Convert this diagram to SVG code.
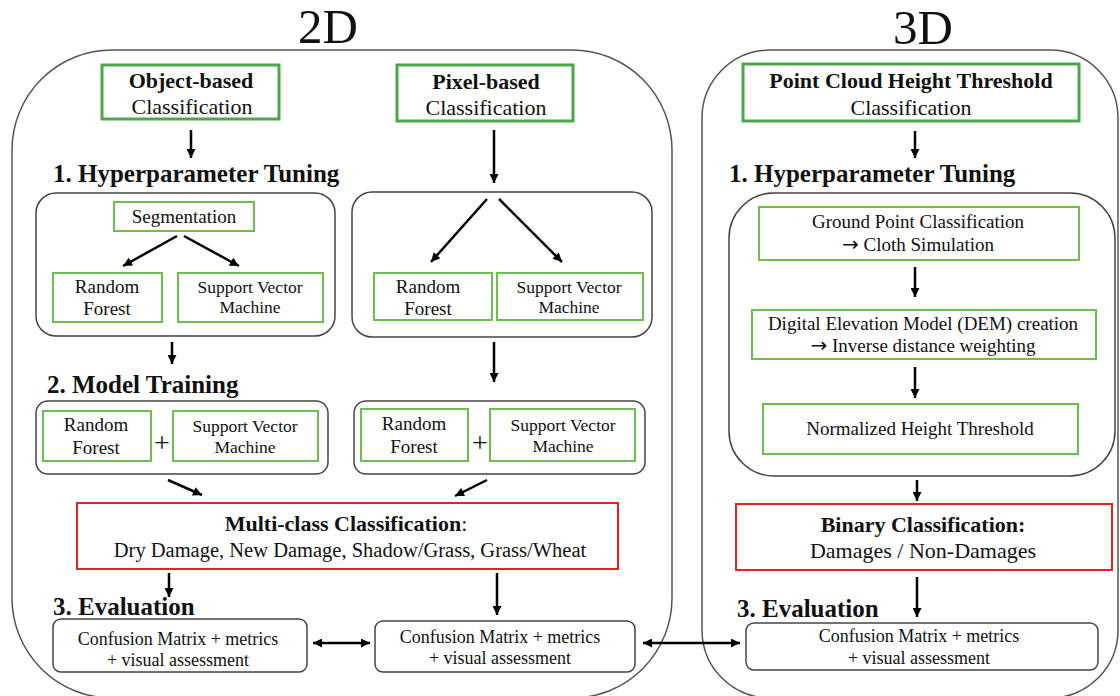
<svg xmlns="http://www.w3.org/2000/svg" width="1120" height="696" viewBox="0 0 1120 696">
<style>
text{font-family:"Liberation Serif","Times New Roman",serif;fill:#111;text-anchor:middle}
.title{font-size:49px}
.h{font-size:25px;font-weight:bold;text-anchor:start}
.t17{font-size:17.5px}
.t18{font-size:18px}
.t19{font-size:19px}
.t20{font-size:20.5px}
.t22{font-size:22px}
.b{font-weight:bold}
.plus{font-size:28px}
.arr{font-family:"DejaVu Sans",sans-serif;font-size:20px}
.cont{fill:none;stroke:#555;stroke-width:1.5}
.grp{fill:#fff;stroke:#444;stroke-width:1.5}
.g3{fill:#fff;stroke:#4ca64c;stroke-width:3}
.g2{fill:#fff;stroke:#6cbf4e;stroke-width:2}
.red{fill:#fff;stroke:#e02424;stroke-width:2}
.ev{fill:#fff;stroke:#444;stroke-width:1.5}
.c{stroke:#000;stroke-width:2.5;fill:none;marker-end:url(#ah)}
.d{stroke:#000;stroke-width:2.5;fill:none;marker-end:url(#ah);marker-start:url(#ah)}
</style>
<defs>
<marker id="ah" viewBox="0 0 10 10" refX="10" refY="5" markerUnits="userSpaceOnUse" markerWidth="10" markerHeight="9" orient="auto-start-reverse">
<path d="M0,0 L10,5 L0,10 z" fill="#000"/>
</marker>
</defs>
<rect width="1120" height="696" fill="#fff"/>

<g id="container-2d">
<rect class="cont" x="12" y="50" width="660" height="648" rx="100"/>
<text class="title" x="328" y="43">2D</text>
</g>
<g id="container-3d">
<rect class="cont" x="702" y="50" width="416" height="648" rx="68"/>
<text class="title" x="923" y="44">3D</text>
</g>

<g id="headings">
<text class="h" x="53" y="182">1. Hyperparameter Tuning</text>
<text class="h" x="729" y="182">1. Hyperparameter Tuning</text>
<text class="h" x="47" y="393">2. Model Training</text>
<text class="h" x="53" y="615">3. Evaluation</text>
<text class="h" x="737" y="617">3. Evaluation</text>
</g>

<g id="object-based">
<rect class="g3" x="102" y="65" width="177" height="54"/>
<text class="t22 b" x="191" y="88">Object-based</text>
<text class="t22" x="192" y="114">Classification</text>
</g>
<g id="pixel-based">
<rect class="g3" x="397" y="65" width="176" height="56"/>
<text class="t22 b" x="486" y="89">Pixel-based</text>
<text class="t22" x="486" y="115">Classification</text>
</g>
<g id="point-cloud">
<rect class="g3" x="743" y="64" width="336" height="57"/>
<text class="t22 b" x="911" y="88">Point Cloud Height Threshold</text>
<text class="t22" x="911" y="115">Classification</text>
</g>

<g id="obj-tuning">
<rect class="grp" x="36" y="193" width="299" height="143" rx="20"/>
</g>
<g id="segmentation">
<rect class="g2" x="114" y="202" width="140" height="29"/>
<text class="t19" x="184" y="223">Segmentation</text>
</g>
<g id="obj-rf-tune">
<rect class="g2" x="53" y="273" width="109" height="49"/>
<text class="t19" x="107" y="293">Random</text>
<text class="t19" x="107" y="315">Forest</text>
</g>
<g id="obj-svm-tune">
<rect class="g2" x="178" y="273" width="145" height="49"/>
<text class="t17" x="250" y="293">Support Vector</text>
<text class="t17" x="250" y="313">Machine</text>
</g>

<g id="pix-tuning">
<rect class="grp" x="352" y="192" width="300" height="145" rx="20"/>
</g>
<g id="pix-rf-tune">
<rect class="g2" x="374" y="273" width="118" height="47"/>
<text class="t19" x="428" y="293">Random</text>
<text class="t19" x="428" y="315">Forest</text>
</g>
<g id="pix-svm-tune">
<rect class="g2" x="497" y="273" width="146" height="47"/>
<text class="t17" x="569" y="293">Support Vector</text>
<text class="t17" x="569" y="313">Machine</text>
</g>

<g id="obj-training">
<rect class="grp" x="36" y="401" width="292" height="73" rx="12"/>
<text class="plus" x="162" y="452">+</text>
</g>
<g id="obj-rf-train">
<rect class="g2" x="43" y="411" width="108" height="50"/>
<text class="t19" x="96" y="431">Random</text>
<text class="t19" x="96" y="454">Forest</text>
</g>
<g id="obj-svm-train">
<rect class="g2" x="173" y="411" width="145" height="50"/>
<text class="t17" x="245" y="432">Support Vector</text>
<text class="t17" x="245" y="453">Machine</text>
</g>

<g id="pix-training">
<rect class="grp" x="354" y="401" width="291" height="73" rx="12"/>
<text class="plus" x="480" y="452">+</text>
</g>
<g id="pix-rf-train">
<rect class="g2" x="361" y="409" width="107" height="52"/>
<text class="t19" x="414" y="430">Random</text>
<text class="t19" x="414" y="453">Forest</text>
</g>
<g id="pix-svm-train">
<rect class="g2" x="490" y="409" width="145" height="52"/>
<text class="t17" x="563" y="431">Support Vector</text>
<text class="t17" x="563" y="452">Machine</text>
</g>

<g id="multi-class">
<rect class="red" x="77" y="503" width="541" height="66"/>
<text class="t22" x="346" y="531"><tspan font-weight="bold">Multi-class Classification</tspan>:</text>
<text class="t20" x="350" y="557">Dry Damage, New Damage, Shadow/Grass, Grass/Wheat</text>
</g>

<g id="obj-eval">
<rect class="ev" x="53" y="619" width="254" height="53" rx="8"/>
<text class="t18" x="178" y="645">Confusion Matrix + metrics</text>
<text class="t18" x="178" y="666">+ visual assessment</text>
</g>
<g id="pix-eval">
<rect class="ev" x="375" y="621" width="260" height="51" rx="8"/>
<text class="t18" x="500" y="643">Confusion Matrix + metrics</text>
<text class="t18" x="500" y="664">+ visual assessment</text>
</g>

<g id="pc-tuning">
<rect class="grp" x="729" y="193" width="386" height="283" rx="45"/>
</g>
<g id="ground-point">
<rect class="g2" x="759" y="207" width="320" height="53"/>
<text class="t19" x="918" y="228">Ground Point Classification</text>
<text class="t19" x="918" y="251"><tspan class="arr">→</tspan> Cloth Simulation</text>
</g>
<g id="dem">
<rect class="g2" x="752" y="310" width="344" height="49"/>
<text class="t19" x="923" y="330">Digital Elevation Model (DEM) creation</text>
<text class="t19" x="923" y="352"><tspan class="arr">→</tspan> Inverse distance weighting</text>
</g>
<g id="normalized">
<rect class="g2" x="763" y="404" width="315" height="50"/>
<text class="t19" x="920" y="435">Normalized Height Threshold</text>
</g>
<g id="binary">
<rect class="red" x="736" y="504" width="376" height="66"/>
<text class="t22 b" x="923" y="532">Binary Classification:</text>
<text class="t22" x="923" y="558">Damages / Non-Damages</text>
</g>
<g id="pc-eval">
<rect class="ev" x="746" y="623" width="352" height="47" rx="8"/>
<text class="t18" x="919" y="642">Confusion Matrix + metrics</text>
<text class="t18" x="919" y="664">+ visual assessment</text>
</g>

<g id="connectors">
<line class="c" x1="191" y1="130" x2="191" y2="158"/>
<line class="c" x1="494" y1="130" x2="494" y2="183"/>
<line class="c" x1="915" y1="131" x2="915" y2="158"/>
<line class="c" x1="177" y1="236" x2="123" y2="266"/>
<line class="c" x1="184" y1="236" x2="239" y2="266"/>
<line class="c" x1="487" y1="199" x2="431" y2="262"/>
<line class="c" x1="499" y1="199" x2="562" y2="262"/>
<line class="c" x1="172" y1="342" x2="172" y2="364"/>
<line class="c" x1="494" y1="342" x2="494" y2="382"/>
<line class="c" x1="168" y1="480" x2="202" y2="495"/>
<line class="c" x1="487" y1="480" x2="455" y2="496"/>
<line class="c" x1="169" y1="573" x2="169" y2="597"/>
<line class="c" x1="497" y1="573" x2="497" y2="615"/>
<line class="d" x1="313" y1="643" x2="370" y2="643"/>
<line class="d" x1="643" y1="643" x2="740" y2="643"/>
<line class="c" x1="915" y1="267" x2="915" y2="297"/>
<line class="c" x1="915" y1="367" x2="915" y2="398"/>
<line class="c" x1="917" y1="480" x2="917" y2="501"/>
<line class="c" x1="917" y1="577" x2="917" y2="617"/>
</g>
</svg>
